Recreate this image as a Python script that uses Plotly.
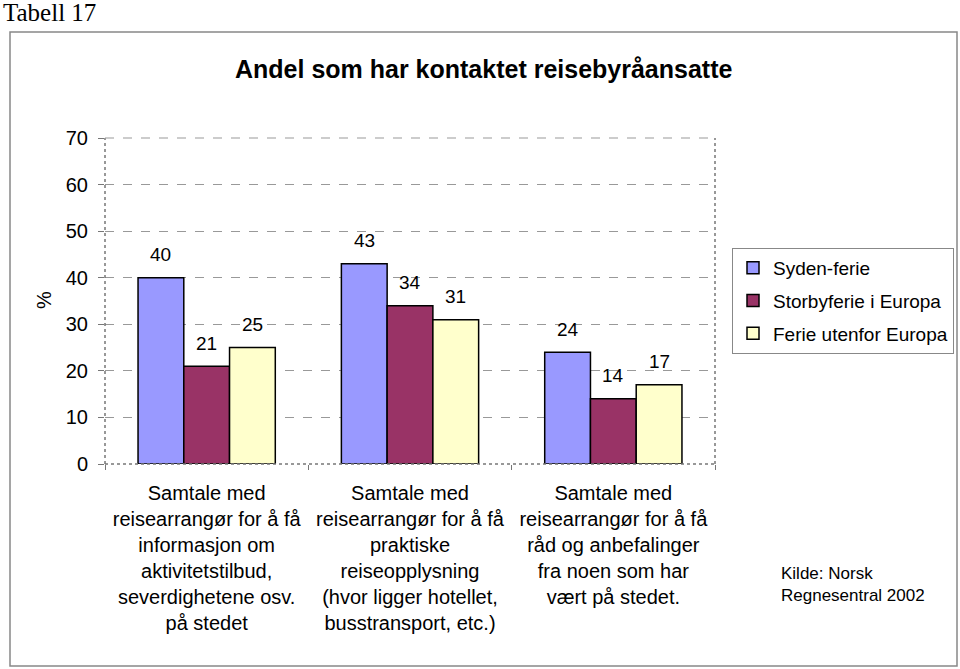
import plotly.graph_objects as go

categories = [
    "Samtale med<br>reisearrangør for å få<br>informasjon om<br>aktivitetstilbud,<br>severdighetene osv.<br>på stedet",
    "Samtale med<br>reisearrangør for å få<br>praktiske<br>reiseopplysning<br>(hvor ligger hotellet,<br>busstransport, etc.)",
    "Samtale med<br>reisearrangør for å få<br>råd og anbefalinger<br>fra noen som har<br>vært på stedet.",
]
series_names = ["Syden-ferie", "Storbyferie i Europa", "Ferie utenfor Europa"]
syden = [40, 43, 24]
storby = [21, 34, 14]
utenfor = [25, 31, 17]
series_values = [syden, storby, utenfor]
colors = ["#9999FF", "#993366", "#FFFFCC"]
y_ticks = [0, 10, 20, 30, 40, 50, 60, 70]

FONT = "Liberation Sans, Arial, sans-serif"

W, H = 960, 669
L, R, T, B = 105, 245, 138, 205
pw, ph = W - L - R, H - T - B
BARGAP = 0.325

def px(x):
    return (x - L) / pw

def py(y):
    return (H - B - y) / ph

fig = go.Figure()
for k, (name, vals, col) in enumerate(zip(series_names, series_values, colors)):
    fig.add_trace(go.Bar(
        x=categories, y=vals, name=name, legendgroup=name,
        marker=dict(color=col, line=dict(color="#000000", width=1.5)),
    ))

# value labels above bars, positioned via the axes
bar_px = pw / len(categories) * (1 - BARGAP) / len(series_names)
for k, vals in enumerate(series_values):
    for cat, v in zip(categories, vals):
        fig.add_annotation(
            x=cat, y=v, xref="x", yref="y", text=str(v), showarrow=False,
            xshift=(k - 1) * bar_px, yshift=23, yanchor="middle",
            font=dict(family=FONT, size=19, color="#000000"),
        )

fig.update_layout(
    width=W, height=H,
    margin=dict(l=L, r=R, t=T, b=B, autoexpand=False),
    paper_bgcolor="white", plot_bgcolor="white",
    barmode="group", bargap=BARGAP, bargroupgap=0,
    font=dict(family=FONT, size=19, color="#000000"),
    showlegend=True,
    legend=dict(
        x=px(732), y=py(248), xanchor="left", yanchor="top",
        bordercolor="#888888", borderwidth=1, bgcolor="white",
        font=dict(family=FONT, size=19, color="#000000"),
        itemwidth=30, tracegroupgap=5,
    ),
    xaxis=dict(
        type="category", tickson="boundaries", ticks="outside", ticklen=5,
        tickcolor="#777777", showgrid=False, showline=False, zeroline=False,
        tickfont=dict(family=FONT, size=20, color="#000000"),
        ticklabelstandoff=15, automargin=False,
    ),
    yaxis=dict(
        range=[0, 70], tickvals=y_ticks, ticks="outside", ticklen=6,
        tickcolor="#777777", showgrid=True, gridcolor="#999999",
        griddash="dash", gridwidth=1, zeroline=False, showline=False,
        tickfont=dict(family=FONT, size=20, color="#000000"),
        ticklabelstandoff=6, automargin=False,
    ),
)

# plot area border (dotted) and baseline
fig.add_shape(type="line", xref="paper", yref="paper", x0=0, x1=0, y0=0, y1=1,
              line=dict(color="#777777", width=1.5, dash="dot"))
fig.add_shape(type="line", xref="paper", yref="paper", x0=1, x1=1, y0=0, y1=1,
              line=dict(color="#777777", width=1.5, dash="dot"))
fig.add_shape(type="line", xref="paper", yref="paper", x0=0, x1=1, y0=0, y1=0,
              line=dict(color="#777777", width=1.5, dash="dot"))
fig.add_shape(type="line", xref="paper", yref="paper", x0=0, x1=1, y0=1, y1=1,
              line=dict(color="#999999", width=1.2, dash="dash"))

# outer chart border
fig.add_shape(type="rect", xref="paper", yref="paper",
              x0=px(10), x1=px(957), y0=py(666), y1=py(32),
              line=dict(color="#888888", width=1.5), fillcolor="rgba(0,0,0,0)")

fig.add_annotation(text="Tabell 17", xref="paper", yref="paper",
                   x=px(1), y=py(-3), xanchor="left", yanchor="top", showarrow=False,
                   font=dict(family="Liberation Serif, Times New Roman, serif", size=25, color="#000000"))
fig.add_annotation(text="<b>Andel som har kontaktet reisebyråansatte</b>", xref="paper", yref="paper",
                   x=px(483), y=py(69), xanchor="center", yanchor="middle", showarrow=False,
                   font=dict(family=FONT, size=25, color="#000000"))
fig.add_annotation(text="%", xref="paper", yref="paper", textangle=-90,
                   x=px(44), y=py(300), xanchor="center", yanchor="middle", showarrow=False,
                   font=dict(family=FONT, size=20, color="#000000"))
fig.add_annotation(text="Kilde: Norsk<br>Regnesentral 2002", xref="paper", yref="paper",
                   x=px(779), y=py(584), xanchor="left", yanchor="middle", align="left",
                   showarrow=False, font=dict(family=FONT, size=17, color="#000000"))

fig.write_html("out.html", config={"displayModeBar": False},
               post_script="document.body.style.margin='0';")
